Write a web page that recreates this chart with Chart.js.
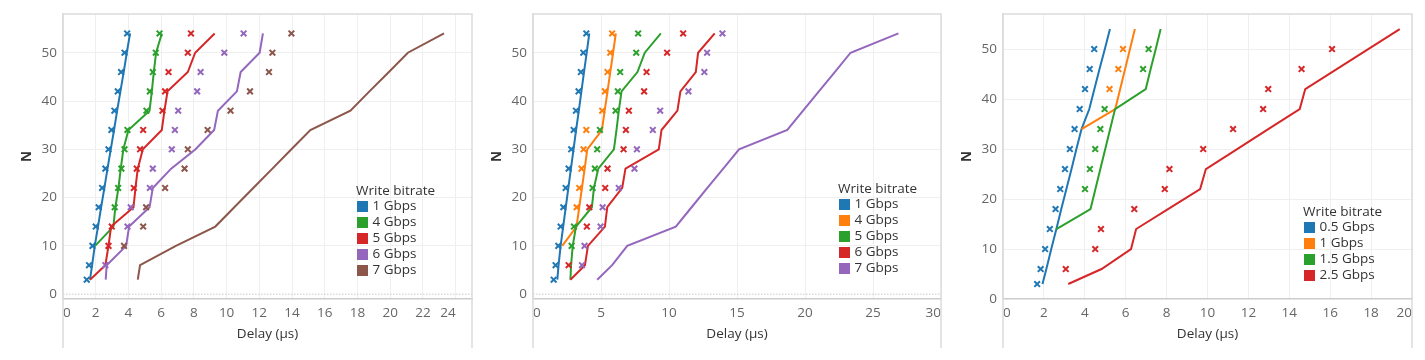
<!DOCTYPE html>
<html>
<head>
<meta charset="utf-8">
<script src="https://cdn.jsdelivr.net/npm/chart.js@4.4.1/dist/chart.umd.min.js"></script>
<style>
  html, body { margin: 0; padding: 0; background: #fff; }
  .panel { position: absolute; top: 0; width: 475px; height: 360px; }
</style>
</head>
<body>
<div class="panel" style="left:0px"><canvas id="c1" width="475" height="360"></canvas></div>
<div class="panel" style="left:475px"><canvas id="c2" width="475" height="360"></canvas></div>
<div class="panel" style="left:950px"><canvas id="c3" width="475" height="360"></canvas></div>
<script>
// N values shared by every series
const nValues = [3, 6, 10, 14, 18, 22, 26, 30, 34, 38, 42, 46, 50, 54];
const yTicks = [0, 10, 20, 30, 40, 50];

const BLUE = '#1f77b4', ORANGE = '#ff7f0e', GREEN = '#2ca02c',
      RED = '#d62728', PURPLE = '#9467bd', BROWN = '#8c564b';

// left panel
const p1Labels = ['1 Gbps', '4 Gbps', '5 Gbps', '6 Gbps', '7 Gbps'];
const p1Colors = [BLUE, GREEN, RED, PURPLE, BROWN];
const p1XTicks = [0, 2, 4, 6, 8, 10, 12, 14, 16, 18, 20, 22, 24];
const p1Line1 = [1.65, 1.78, 1.94, 2.14, 2.33, 2.53, 2.72, 2.92, 3.12, 3.31, 3.51, 3.71, 3.90, 4.10];
const p1Line4 = [null, null, 1.96, 3.08, 3.20, 3.39, 3.53, 3.69, 4.00, 5.29, 5.43, 5.55, 5.69, 6.04];
const p1Line5 = [1.65, 2.59, 2.78, 2.94, 4.31, 4.43, 4.57, 4.88, 6.04, 6.20, 6.39, 7.63, 8.08, 9.27];
const p1Line6 = [2.61, 2.67, 3.86, 4.04, 5.29, 5.49, 6.61, 8.10, 9.24, 9.47, 10.63, 10.86, 12.02, 12.22];
const p1Line7 = [4.57, 4.71, 6.90, 9.31, 10.47, 11.63, 12.80, 13.96, 15.12, 17.57, 18.73, 19.92, 21.08, 23.29];
const p1Mark1 = [1.45, 1.59, 1.80, 2.00, 2.18, 2.39, 2.59, 2.78, 2.96, 3.14, 3.35, 3.55, 3.76, 3.92];
const p1Mark4 = [null, null, null, null, 3.16, 3.37, 3.57, 3.76, 3.94, 5.10, 5.31, 5.49, 5.67, 5.90];
const p1Mark5 = [null, null, 2.78, 2.98, null, 4.33, 4.51, 4.71, 4.90, 6.08, 6.24, 6.45, 7.63, 7.82];
const p1Mark6 = [null, 2.59, null, 3.94, 4.14, 5.31, 5.49, 6.65, 6.84, 7.04, 8.20, 8.41, 9.86, 11.04];
const p1Mark7 = [null, null, 3.73, 4.90, 5.08, 6.24, 7.43, 7.63, 8.84, 10.24, 11.43, 12.59, 12.80, 13.96];

// middle panel
const p2Labels = ['1 Gbps', '4 Gbps', '5 Gbps', '6 Gbps', '7 Gbps'];
const p2Colors = [BLUE, ORANGE, GREEN, RED, PURPLE];
const p2XTicks = [0, 5, 10, 15, 20, 25, 30];
const p2Line1 = [1.79, 1.88, 2.03, 2.22, 2.41, 2.60, 2.79, 2.98, 3.17, 3.37, 3.56, 3.75, 3.95, 4.14];
const p2Line4 = [null, null, 2.15, 3.20, 3.40, 3.60, 3.80, 3.99, 5.07, 5.27, 5.48, 5.68, 5.89, 6.09];
const p2Line5 = [2.75, 2.80, 2.92, 3.16, 4.33, 4.48, 4.80, 5.95, 6.14, 6.31, 6.51, 7.68, 8.22, 9.40];
const p2Line6 = [2.75, 3.82, 4.04, 5.29, 5.46, 6.56, 6.80, 9.25, 9.45, 10.62, 10.84, 11.97, 12.14, 13.36];
const p2Line7 = [4.72, 5.82, 6.93, 10.50, 11.66, 12.82, 13.99, 15.15, 18.70, 19.86, 21.02, 22.19, 23.35, 26.87];
const p2Mark1 = [1.52, 1.66, 1.86, 2.03, 2.23, 2.40, 2.62, 2.81, 2.99, 3.16, 3.35, 3.52, 3.70, 3.92];
const p2Mark4 = [null, null, null, null, 3.21, 3.40, 3.57, 3.72, 3.92, 5.09, 5.29, 5.48, 5.68, 5.82];
const p2Mark5 = [null, null, 2.84, 3.01, null, 4.38, 4.55, 4.72, 4.92, 6.07, 6.24, 6.41, 7.59, 7.73];
const p2Mark6 = [null, 2.62, null, 3.96, 4.14, 5.31, 5.48, 6.66, 6.83, 7.05, 8.17, 8.35, 9.86, 11.04];
const p2Mark7 = [null, 3.60, 3.79, 4.97, 5.12, 6.31, 7.46, 7.64, 8.81, 9.35, 11.43, 12.60, 12.80, 13.93];

// right panel
const p3Labels = ['0.5 Gbps', '1 Gbps', '1.5 Gbps', '2.5 Gbps'];
const p3Colors = [BLUE, ORANGE, GREEN, RED];
const p3XTicks = [0, 2, 4, 6, 8, 10, 12, 14, 16, 18, 20];
const p3Line05 = [1.93, 2.12, 2.36, 2.61, 2.85, 3.10, 3.35, 3.59, 3.84, 4.22, 4.47, 4.72, 4.98, 5.23];
const p3Line1 = [null, null, null, null, null, null, null, null, 3.84, 5.49, 5.73, 5.97, 6.21, 6.45];
const p3Line15 = [null, null, null, 2.61, 4.28, 4.52, 4.76, 5.00, 5.24, 5.48, 6.98, 7.22, 7.47, 7.71];
const p3Line25 = [3.19, 4.82, 6.26, 6.51, 8.07, 9.64, 9.92, 11.45, 12.97, 14.51, 14.78, 16.32, 17.86, 19.40];
const p3Mark05 = [1.67, 1.84, 2.06, 2.29, 2.57, 2.80, 3.03, 3.27, 3.50, 3.75, 4.01, 4.24, 4.46, null];
const p3Mark1 = [null, null, null, null, null, null, null, null, null, null, 5.21, 5.64, 5.87, null];
const p3Mark15 = [null, null, null, null, null, 4.01, 4.25, 4.51, 4.76, 4.97, null, 6.85, 7.12, null];
const p3Mark25 = [null, 3.07, 4.51, 4.79, 6.42, 7.91, 8.14, 9.79, 11.25, 12.72, 12.97, 14.60, 16.09, null];

Chart.defaults.font.family = "'Open Sans', sans-serif";
Chart.defaults.font.size = 13.5;

const toPoints = vals => vals
  .map((v, i) => (v === null ? null : { x: v, y: nValues[i] }))
  .filter(p => p !== null);

function buildDatasets(labels, colors, lines, marks) {
  const sets = [];
  labels.forEach((lab, i) => {
    sets.push({
      label: lab, data: toPoints(lines[i]), showLine: true,
      borderColor: colors[i], borderWidth: 2, pointRadius: 0, order: 20 - i
    });
  });
  labels.forEach((lab, i) => {
    sets.push({
      label: lab + ' (x)', data: toPoints(marks[i]), showLine: false,
      pointStyle: 'crossRot', pointRadius: 4, pointBorderWidth: 2,
      borderColor: colors[i], backgroundColor: colors[i], order: 10 - i
    });
  });
  return sets;
}

// light box around the plot + dotted zero line
const frame = {
  id: 'frame',
  beforeDatasetsDraw(chart) {
    const { ctx, chartArea: a, scales } = chart;
    const y0 = scales.y.getPixelForValue(0);
    if (y0 < a.bottom - 2) {
      ctx.save();
      ctx.strokeStyle = '#c9c9c9';
      ctx.lineWidth = 1;
      ctx.setLineDash([1.5, 1.5]);
      ctx.beginPath();
      ctx.moveTo(a.left, y0);
      ctx.lineTo(a.right, y0);
      ctx.stroke();
      ctx.restore();
    }
  },
  afterDraw(chart) {
    const { ctx, chartArea: a } = chart;
    ctx.save();
    ctx.strokeStyle = '#dcdcdc';
    ctx.lineWidth = 1.5;
    ctx.beginPath();
    ctx.moveTo(a.left, 348);
    ctx.lineTo(a.left, a.top);
    ctx.lineTo(a.right, a.top);
    ctx.lineTo(a.right, 348);
    ctx.stroke();
    ctx.restore();
  }
};

function legendAt(x, y, labels, colors) {
  return {
    id: 'boxLegend',
    afterDraw(chart) {
      const ctx = chart.ctx;
      ctx.save();
      ctx.font = "13.5px 'Open Sans', sans-serif";
      ctx.textBaseline = 'middle';
      ctx.textAlign = 'left';
      ctx.fillStyle = '#333';
      ctx.fillText('Write bitrate', x, y);
      labels.forEach((lab, i) => {
        const cy = y + 15.5 + 16 * i;
        ctx.fillStyle = colors[i];
        ctx.fillRect(x + 1, cy - 5.5, 11, 11);
        ctx.fillStyle = '#333';
        ctx.fillText(lab, x + 16.5, cy);
      });
      ctx.restore();
    }
  };
}

function makePanel(id, cfg) {
  new Chart(document.getElementById(id), {
    type: 'scatter',
    data: { datasets: buildDatasets(cfg.labels, cfg.colors, cfg.lines, cfg.marks) },
    options: {
      responsive: false,
      animation: false,
      events: [],
      layout: { padding: { top: 11, right: cfg.padRight, left: 0, bottom: 0 }, autoPadding: false },
      plugins: { legend: { display: false }, tooltip: { enabled: false } },
      scales: {
        x: {
          type: 'linear', min: 0, max: cfg.xMax,
          afterBuildTicks: s => { s.ticks = cfg.xTicks.map(v => ({ value: v })); },
          afterFit: s => { s.height = 61; },
          grid: { color: '#efefef', drawTicks: false },
          border: { color: '#cccccc', width: 1.5 },
          ticks: { align: 'inner', padding: 6, color: '#666', autoSkip: false, maxRotation: 0 },
          title: { display: true, text: 'Delay (µs)', color: '#333', padding: { top: 0, bottom: 18 } }
        },
        y: {
          type: 'linear', min: cfg.yMin, max: cfg.yMax,
          afterBuildTicks: s => { s.ticks = yTicks.map(v => ({ value: v })); },
          afterFit: s => { s.width = cfg.yWidth; },
          grid: { color: c => (c.tick && c.tick.value === 0 ? 'rgba(0,0,0,0)' : '#efefef'), drawTicks: false },
          border: { color: '#dcdcdc', width: 1.5 },
          ticks: { padding: 6, color: '#666' },
          title: { display: true, text: 'N', color: '#333', font: { weight: 'bold' }, padding: { top: cfg.titlePad, bottom: 0 } }
        }
      }
    },
    plugins: [frame, legendAt(cfg.legX, cfg.legY, cfg.labels, cfg.colors)]
  });
}

makePanel('c1', {
  labels: p1Labels, colors: p1Colors,
  lines: [p1Line1, p1Line4, p1Line5, p1Line6, p1Line7],
  marks: [p1Mark1, p1Mark4, p1Mark5, p1Mark6, p1Mark7],
  xTicks: p1XTicks, xMax: 25, yMin: -1, yMax: 58,
  yWidth: 63, padRight: 3, titlePad: 18.7, legX: 356, legY: 191
});
makePanel('c2', {
  labels: p2Labels, colors: p2Colors,
  lines: [p2Line1, p2Line4, p2Line5, p2Line6, p2Line7],
  marks: [p2Mark1, p2Mark4, p2Mark5, p2Mark6, p2Mark7],
  xTicks: p2XTicks, xMax: 30, yMin: -1, yMax: 58,
  yWidth: 58, padRight: 9, titlePad: 13.7, legX: 363, legY: 189
});
makePanel('c3', {
  labels: p3Labels, colors: p3Colors,
  lines: [p3Line05, p3Line1, p3Line15, p3Line25],
  marks: [p3Mark05, p3Mark1, p3Mark15, p3Mark25],
  xTicks: p3XTicks, xMax: 20, yMin: 0, yMax: 57,
  yWidth: 53, padRight: 13, titlePad: 9.2, legX: 353, legY: 212
});
</script>
</body>
</html>
